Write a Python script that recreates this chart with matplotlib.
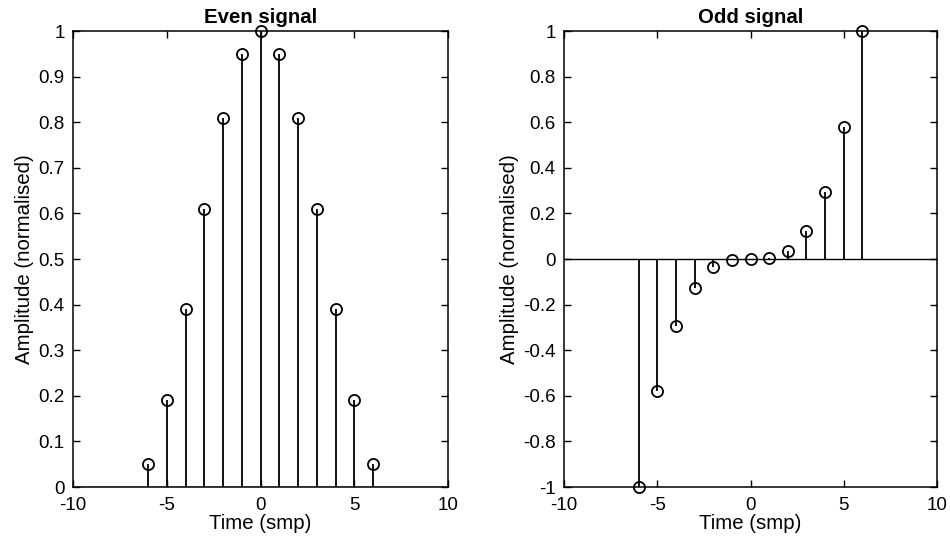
import matplotlib
matplotlib.use("Agg")
import matplotlib.pyplot as plt
import numpy as np

plt.rcParams['font.family'] = ['Liberation Sans', 'DejaVu Sans']

time_smp = [-6, -5, -4, -3, -2, -1, 0, 1, 2, 3, 4, 5, 6]
even_vals = [0.05, 0.19, 0.39, 0.61, 0.81, 0.95, 1.0, 0.95, 0.81, 0.61, 0.39, 0.19, 0.05]
odd_vals = [-1.0, -0.58, -0.295, -0.125, -0.035, -0.005, 0.0, 0.005, 0.035, 0.125, 0.295, 0.58, 1.0]

even_yticks = [0, 0.1, 0.2, 0.3, 0.4, 0.5, 0.6, 0.7, 0.8, 0.9, 1]
even_yticklabels = ['0', '0.1', '0.2', '0.3', '0.4', '0.5', '0.6', '0.7', '0.8', '0.9', '1']
odd_yticks = [-1, -0.8, -0.6, -0.4, -0.2, 0, 0.2, 0.4, 0.6, 0.8, 1]
odd_yticklabels = ['-1', '-0.8', '-0.6', '-0.4', '-0.2', '0', '0.2', '0.4', '0.6', '0.8', '1']
xticks = [-10, -5, 0, 5, 10]
xticklabels = ['-10', '-5', '0', '5', '10']

fig = plt.figure(figsize=(9.5, 5.37), dpi=100)
W, H = 950, 537
top, bottom = 31, 487
ax1 = fig.add_axes([73 / W, 1 - bottom / H, (448 - 73) / W, (bottom - top) / H])
ax2 = fig.add_axes([564 / W, 1 - bottom / H, (937 - 564) / W, (bottom - top) / H])


def draw(ax, vals, ylim, yticks, yticklabels, title):
    ml, sl, bl = ax.stem(time_smp, vals, linefmt='k-', markerfmt='ko', basefmt=' ')
    plt.setp(sl, linewidth=1.3)
    ml.set_markerfacecolor('none')
    ml.set_markeredgecolor('black')
    ml.set_markersize(8)
    ml.set_markeredgewidth(1.3)
    ml.set_clip_on(False)
    ax.axhline(0, color='black', linewidth=1.0, zorder=1)
    ax.set_xlim(-10, 10)
    ax.set_ylim(*ylim)
    ax.set_xticks(xticks)
    ax.set_xticklabels(xticklabels)
    ax.set_yticks(yticks)
    ax.set_yticklabels(yticklabels)
    ax.tick_params(direction='in', top=True, right=True, labelsize=13.5, length=5, width=1)
    ax.tick_params(axis='x', pad=7)
    ax.tick_params(axis='y', pad=6)
    for s in ax.spines.values():
        s.set_linewidth(1.1)
    ax.set_xlabel('Time (smp)', fontsize=14.7, labelpad=0)
    ax.set_ylabel('Amplitude (normalised)', fontsize=14.7, labelpad=3)
    ax.set_title(title, fontsize=14.7, fontweight='bold', pad=6)


draw(ax1, even_vals, (0, 1), even_yticks, even_yticklabels, 'Even signal')
draw(ax2, odd_vals, (-1, 1), odd_yticks, odd_yticklabels, 'Odd signal')

fig.savefig('out.png', dpi=100)
